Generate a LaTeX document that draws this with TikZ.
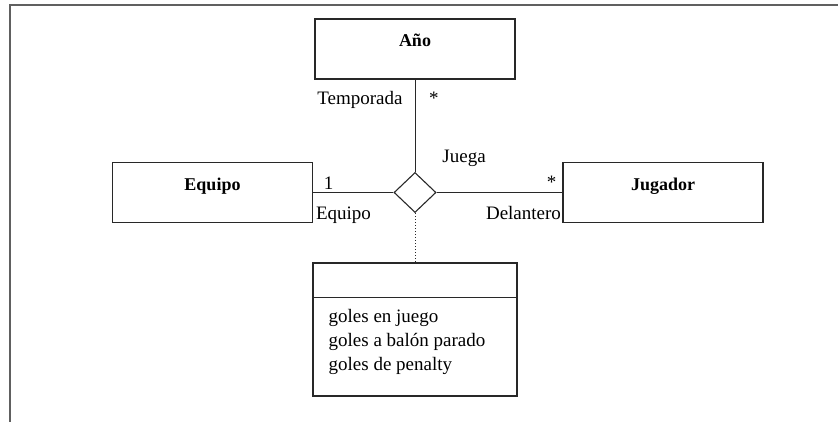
\documentclass[tikz,border=0pt]{standalone}
\usepackage{fontspec}
\setmainfont{LiberationSerif}[Extension=.ttf,UprightFont=*-Regular,BoldFont=*-Bold,ItalicFont=*-Italic]
\usetikzlibrary{shapes.geometric,positioning}
\definecolor{marco}{RGB}{96,96,96}
\definecolor{trazo}{RGB}{40,40,40}

\begin{document}
\begin{tikzpicture}[x=1pt,y=-1pt,
  clase/.style={draw=trazo,line width=1.1pt,minimum width=200pt,minimum height=60pt,inner sep=0pt,
    text height=13pt,text depth=17pt,font=\fontsize{18}{22}\selectfont\bfseries},
  rombo/.style={draw=trazo,diamond,minimum width=42pt,minimum height=40pt,inner sep=0pt,line width=1.1pt},
  rol/.style={font=\fontsize{19}{24}\selectfont,inner sep=0pt},
  linea/.style={draw=trazo,line width=1pt}]
\useasboundingbox (0,0) rectangle (838,422);
\draw[line width=2pt,color=marco] (10,422) -- (10,5.5) -- (838,5.5);
\node[clase] (ano) at (415,49) {Año};
\node[clase] (equipo) at (212.5,192.5) {Equipo};
\node[clase] (jugador) at (663,192.5) {Jugador};
\node[rombo] (juega) at (415,192.5) {};
\node[draw=trazo,line width=1.1pt,minimum width=204pt,minimum height=133pt,inner sep=0pt] (goles) at (415,329.5) {};
\draw[linea] ([yshift=-35pt]goles.north west) -- ([yshift=-35pt]goles.north east);
\node[rol,anchor=north west,align=left] (atrib) at ([xshift=16pt,yshift=-47pt]goles.north west)
  {goles en juego\\goles a balón parado\\goles de penalty};
\node[rol,anchor=south west] (nombre) at ([xshift=16.5pt,yshift=15.5pt]juega.north east) {Juega};
\draw[linea] (ano) -- (juega)
  node[rol,pos=0.22,anchor=east,xshift=-12pt] {Temporada}
  node[rol,pos=0.2,anchor=west,xshift=13.5pt] {*};
\draw[linea] (equipo) -- (juega)
  node[rol,pos=0,anchor=south,xshift=15.5pt,yshift=2.25pt] {1}
  node[rol,pos=0,anchor=north west,xshift=2.5pt,yshift=-13.5pt] {Equipo};
\draw[linea] (juega) -- (jugador)
  node[rol,pos=1,anchor=south east,xshift=-5.5pt,yshift=3pt] {*}
  node[rol,pos=1,anchor=north east,xshift=-1pt,yshift=-13.5pt] {Delantero};
\draw[linea,dotted] (juega) -- (goles);
\end{tikzpicture}
\end{document}
